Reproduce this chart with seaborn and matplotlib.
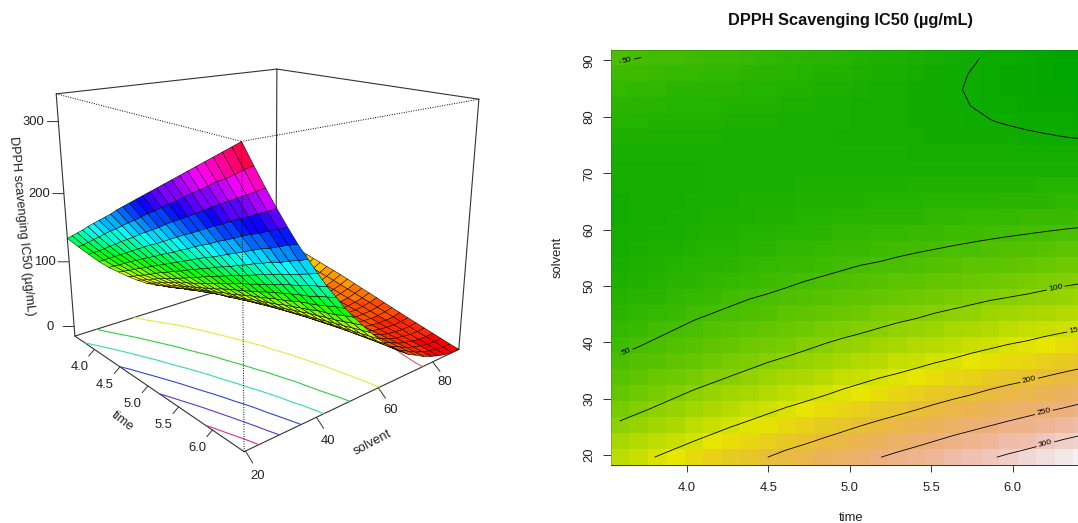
#!/usr/bin/env python3
"""
DPPH scavenging IC50 response surface: 3D view on the left, image and contours on the right
"""

import colorsys

import numpy as np
import pandas as pd
import matplotlib
matplotlib.use('Agg')
import matplotlib.pyplot as plt
from matplotlib.colors import ListedColormap
from mpl_toolkits.mplot3d import proj3d
import seaborn as sns

sns.set_style('white')
plt.rcParams['font.family'] = ['Liberation Sans', 'DejaVu Sans']

# grid, rows run from low solvent to high solvent
time_values = [3.588, 3.701, 3.815, 3.928, 4.042, 4.155, 4.269, 4.382, 4.496, 4.610, 4.723, 4.837, 4.950,
               5.064, 5.177, 5.291, 5.404, 5.518, 5.632, 5.745, 5.859, 5.972, 6.086, 6.199, 6.313, 6.426]
solvent_values = [19.65, 22.49, 25.32, 28.16, 30.99, 33.83, 36.66, 39.50, 42.33, 45.17, 48.00, 50.84, 53.67,
                  56.51, 59.34, 62.18, 65.01, 67.85, 70.68, 73.52, 76.35, 79.19, 82.02, 84.86, 87.69, 90.53]
ic50_rows = [
    [135, 143, 151, 159, 168, 176, 184, 192, 200, 209, 217, 225, 233, 241, 249, 257, 265, 273, 281, 289, 297, 305, 313, 321, 329, 337],
    [119, 126, 134, 142, 150, 158, 166, 173, 181, 189, 196, 204, 212, 219, 227, 235, 242, 250, 258, 265, 273, 281, 287, 295, 303, 310],
    [104, 111, 118, 125, 133, 140, 148, 155, 162, 170, 177, 184, 191, 199, 206, 213, 220, 227, 235, 242, 249, 256, 263, 270, 277, 284],
    [89, 96, 103, 110, 117, 124, 131, 138, 145, 152, 158, 165, 172, 179, 186, 192, 199, 206, 213, 219, 226, 233, 239, 246, 252, 259],
    [76, 83, 89, 96, 103, 109, 116, 122, 128, 135, 141, 147, 154, 160, 167, 173, 179, 186, 192, 198, 205, 211, 216, 223, 229, 235],
    [65, 71, 77, 83, 89, 95, 101, 107, 113, 119, 125, 131, 137, 143, 149, 154, 160, 166, 172, 178, 184, 190, 195, 201, 207, 212],
    [54, 59, 65, 70, 76, 82, 88, 93, 99, 104, 110, 115, 121, 126, 132, 137, 142, 148, 153, 159, 164, 170, 174, 180, 185, 191],
    [44, 49, 54, 60, 65, 70, 75, 80, 85, 90, 95, 101, 106, 111, 116, 121, 126, 131, 136, 141, 146, 151, 155, 160, 165, 170],
    [35, 40, 45, 50, 55, 60, 64, 69, 73, 78, 82, 87, 92, 96, 101, 106, 110, 115, 119, 124, 129, 133, 137, 142, 146, 150],
    [28, 32, 36, 41, 46, 50, 54, 58, 62, 66, 70, 75, 79, 83, 87, 91, 95, 100, 104, 108, 112, 116, 119, 124, 128, 132],
    [22, 25, 29, 33, 37, 41, 45, 49, 52, 56, 60, 63, 67, 71, 75, 78, 82, 86, 89, 93, 97, 100, 103, 107, 111, 114],
    [16, 19, 23, 26, 30, 33, 37, 40, 43, 46, 50, 53, 56, 60, 63, 66, 69, 73, 76, 79, 82, 86, 88, 91, 95, 98],
    [12, 15, 18, 21, 24, 27, 30, 33, 35, 38, 41, 44, 47, 50, 52, 55, 58, 61, 64, 67, 69, 72, 74, 77, 80, 83],
    [8.5, 10.9, 13.4, 16, 18.6, 21, 23.5, 26, 28.5, 30.9, 33.4, 35.8, 38.2, 40.6, 43, 45.3, 47.7, 50, 52.3, 54.6, 56.9, 59.2, 61.3, 63.7, 66, 68.3],
    [6.1, 8.2, 10.3, 12.4, 14.5, 16.6, 18.7, 20.7, 22.8, 24.7, 26.8, 28.7, 30.7, 32.6, 34.6, 36.4, 38.4, 40.2, 42.2, 44, 45.9, 47.7, 49.5, 51.3, 53.1, 54.8],
    [4.9, 6.6, 8.2, 9.9, 11.5, 13.2, 14.8, 16.4, 18, 19.5, 21, 22.6, 24.1, 25.6, 27.1, 28.6, 30, 31.4, 32.9, 34.3, 35.7, 37, 38.4, 39.8, 41.1, 42.4],
    [4.9, 6.2, 7.4, 8.6, 9.8, 11, 12.2, 13.3, 14.4, 15.6, 16.7, 17.8, 18.9, 19.9, 21, 22, 23, 24, 25, 26, 27, 27.8, 28.8, 29.7, 30.6, 31.5],
    [6, 6.8, 7.6, 8.3, 9.1, 9.9, 10.6, 11.3, 12, 12.6, 13.3, 14, 14.6, 15.2, 15.8, 16.4, 16.9, 17.5, 18.1, 18.6, 19.1, 19.5, 20, 20.5, 21, 21.4],
    [8.1, 8.5, 8.8, 9.1, 9.4, 9.8, 10.1, 10.3, 10.5, 10.8, 11, 11.2, 11.4, 11.6, 11.8, 11.9, 12, 12.1, 12.3, 12.3, 12.4, 12.4, 12.5, 12.5, 12.5, 12.5],
    [11.3, 11.3, 11.2, 11.2, 11.1, 11.2, 11, 10.9, 10.8, 10.6, 10.5, 10.4, 10.1, 10, 9.8, 9.6, 9.3, 9, 8.8, 8.5, 8.2, 7.8, 7.6, 7.2, 6.8, 6.5],
    [15.5, 15.1, 14.6, 14.2, 13.7, 13.3, 12.8, 12.2, 11.7, 11.1, 10.6, 9.9, 9.2, 8.6, 7.9, 7.1, 6.3, 5.5, 4.8, 4, 3.3, 2.5, 1.8, 1, 0.2, -0.6],
    [20.9, 20.1, 19.2, 18.4, 17.5, 16.6, 15.6, 14.8, 13.8, 12.8, 11.8, 10.7, 9.6, 8.5, 7.3, 6.2, 5, 3.9, 2.7, 1.5, 0.3, -0.8, -2, -3.1, -4.4, -5.5],
    [27.2, 25.9, 24.7, 23.3, 22, 20.7, 19.4, 18.1, 16.6, 15.3, 13.9, 12.4, 10.9, 9.3, 7.8, 6.3, 4.7, 3, 1.5, -0.1, -1.7, -3.2, -4.8, -6.4, -8, -9.7],
    [34.8, 33.2, 31.4, 29.8, 28.1, 26.3, 24.6, 22.9, 21.1, 19.3, 17.6, 15.6, 13.5, 11.4, 9.4, 7.4, 5.3, 3.2, 1.1, -1, -2.9, -5.1, -7, -8.9, -10.9, -13],
    [43.3, 41.2, 39.3, 37.1, 34.9, 33, 30.8, 28.6, 26.4, 24.3, 22.2, 19.7, 17.2, 14.8, 12.2, 9.8, 7.2, 4.6, 2, -0.4, -2.8, -5.3, -7.5, -9.9, -12.3, -14.7],
    [52.8, 50.4, 48, 45.5, 42.9, 40.5, 38, 35.5, 32.9, 30.5, 28, 25.1, 22.2, 19.1, 16.2, 13.3, 10.3, 7.2, 4.3, 1.3, -1.4, -4.2, -6.9, -9.7, -12.5, -15.2],
]

time_ticks = [4.0, 4.5, 5.0, 5.5, 6.0]
solvent_ticks = [20, 40, 60, 80]
solvent_ticks_image = [20, 30, 40, 50, 60, 70, 80, 90]
ic50_ticks = [0, 100, 200, 300]
contour_levels = [0, 50, 100, 150, 200, 250, 300]
floor_colors = ['#d06060', '#e8e840', '#33cc44', '#33ddaa', '#3344cc', '#6633cc', '#cc3399']

FIG_W, FIG_H = 1078, 523
LINE = '#333333'


def terrain_colors(n):
    """Same ramp as R terrain.colors"""
    k = n // 2
    low = [colorsys.hsv_to_rgb(h, 1.0, v)
           for h, v in zip(np.linspace(4 / 12, 2 / 12, k), np.linspace(0.65, 0.9, k))]
    high = [colorsys.hsv_to_rgb(h, s, v)
            for h, s, v in zip(np.linspace(2 / 12, 0, n - k + 1)[1:], np.linspace(1, 0, n - k + 1)[1:],
                               np.linspace(0.9, 0.95, n - k + 1)[1:])]
    return low + high


def rainbow_colors(n):
    """Same ramp as R rainbow"""
    return np.array([colorsys.hsv_to_rgb(i / n, 1.0, 1.0) for i in range(n)])


def px_axes(fig, left, top, width, height, **kwargs):
    """Add axes from pixel box, top measured from the upper edge"""
    return fig.add_axes([left / FIG_W, 1 - (top + height) / FIG_H, width / FIG_W, height / FIG_H], **kwargs)


def draw_surface(fig, z):
    """Left panel, persp style box with floor contours"""
    ax = px_axes(fig, 35, 9, 445, 445, projection='3d')
    ax.computed_zorder = False
    ax.set_axis_off()
    ax.patch.set_alpha(0)

    t_lo, t_hi = time_values[0], time_values[-1]
    s_lo, s_hi = solvent_values[0], solvent_values[-1]
    z_lo, z_hi = z.min(), z.max()
    ax.set_xlim(t_lo, t_hi, view_margin=0)
    ax.set_ylim(s_lo, s_hi, view_margin=0)
    ax.set_zlim(z_lo, z_hi, view_margin=0)
    ax.set_box_aspect((1, 1, 0.905), zoom=1.045)
    ax.view_init(elev=18, azim=-40.5)
    ax.set_proj_type('persp', focal_length=0.345)

    # back edges first, surface hides them
    solid = [((t_lo, s_lo, z_lo), (t_lo, s_hi, z_lo)), ((t_hi, s_hi, z_lo), (t_lo, s_hi, z_lo)),
             ((t_lo, s_hi, z_lo), (t_lo, s_hi, z_hi)), ((t_lo, s_lo, z_hi), (t_lo, s_hi, z_hi)),
             ((t_hi, s_hi, z_hi), (t_lo, s_hi, z_hi)), ((t_lo, s_lo, z_lo), (t_lo, s_lo, z_hi)),
             ((t_hi, s_hi, z_lo), (t_hi, s_hi, z_hi)), ((t_lo, s_lo, z_lo), (t_hi, s_lo, z_lo)),
             ((t_hi, s_lo, z_lo), (t_hi, s_hi, z_lo))]
    for a, b in solid:
        ax.plot(*zip(a, b), color=LINE, lw=0.8, zorder=1, clip_on=False)

    T, S = np.meshgrid(time_values, solvent_values)
    ax.contour(T, S, z, levels=contour_levels, colors=floor_colors, zdir='z', offset=z_lo,
               linewidths=0.8, zorder=1.5)

    # facet colour from mean height of the four corners
    facet = (z[:-1, :-1] + z[1:, :-1] + z[:-1, 1:] + z[1:, 1:]) / 4
    palette = rainbow_colors(40)
    idx = np.clip(((facet - z_lo) / (z_hi - z_lo) * 40).astype(int), 0, 39)
    ax.plot_surface(T, S, z, facecolors=palette[idx], rstride=1, cstride=1, shade=False,
                    edgecolor='black', linewidth=0.35, zorder=2)

    dotted = [((t_lo, s_lo, z_hi), (t_hi, s_lo, z_hi)), ((t_hi, s_hi, z_hi), (t_hi, s_lo, z_hi)),
              ((t_hi, s_lo, z_lo), (t_hi, s_lo, z_hi))]
    for a, b in dotted:
        ax.plot(*zip(a, b), color='black', lw=0.7, ls=(0, (1, 1.5)), zorder=3, clip_on=False)

    # ticks and labels sit at a screen offset from the projected edge point
    M = ax.get_proj()

    def tick(x, y, zv, dx, dy, lx, ly, label):
        px, py, _ = proj3d.proj_transform(x, y, zv, M)
        ax.annotate('', xy=(px, py), xytext=(dx * 0.72, -dy * 0.72), textcoords='offset points',
                    xycoords='data', annotation_clip=False, zorder=4,
                    arrowprops=dict(arrowstyle='-', lw=0.7, color=LINE, shrinkA=0, shrinkB=0))
        ax.annotate(label, xy=(px, py), xytext=(lx * 0.72, -ly * 0.72), textcoords='offset points',
                    ha='center', va='center', fontsize=9.4, color='#222222', annotation_clip=False, zorder=4)

    for t in time_ticks:
        tick(t, s_lo, z_lo, -5.7, 6.7, -15, 18, f'{t:.1f}')
    for s in solvent_ticks:
        tick(t_hi, s, z_lo, 7.3, 12 - (s - 20) * 0.04, 12, 25 - (s - 20) * 0.08, f'{s}')
    for v in ic50_ticks:
        tick(t_lo, s_lo, v, -11, 0, -24.5, 0, f'{v}')

    fig.text(122 / FIG_W, 1 - 421 / FIG_H, 'time', rotation=-38, ha='center', va='center', fontsize=9.4, color='#222222')
    fig.text(372 / FIG_W, 1 - 443 / FIG_H, 'solvent', rotation=28, ha='center', va='center', fontsize=9.4, color='#222222')
    fig.text(22 / FIG_W, 1 - 226 / FIG_H, 'DPPH scavenging IC50 (µg/mL)', rotation=-84.5, ha='center', va='center',
             fontsize=9.1, color='#222222')


def draw_image(fig, z):
    """Right panel, heatmap cells with labelled contours on top"""
    ax = px_axes(fig, 610.5, 49.5, 481, 415.7)
    df = pd.DataFrame(z, index=solvent_values, columns=time_values)
    sns.heatmap(df, cmap=ListedColormap(terrain_colors(100)), vmin=z.min(), vmax=z.max(), cbar=False, ax=ax,
                xticklabels=False, yticklabels=False)
    ax.set_ylim(0, len(solvent_values))

    col = np.arange(len(time_values)) + 0.5
    row = np.arange(len(solvent_values)) + 0.5

    def x_pos(v):
        return np.interp(v, time_values, col)

    def y_pos(v):
        return np.interp(v, solvent_values, row)

    cs = ax.contour(col, row, z, levels=contour_levels, colors='black', linewidths=0.6)
    spots = [(3.62, 38.9), (3.64, 89.2), (6.264, 49.6), (6.39, 41.9), (6.10, 33.5), (6.19, 27.6), (6.20, 22.0)]
    ax.clabel(cs, fmt='%d', fontsize=6.0, inline_spacing=2,
              manual=[(x_pos(a), y_pos(b)) for a, b in spots])

    ax.set_xticks(x_pos(time_ticks))
    ax.set_xticklabels([f'{t:.1f}' for t in time_ticks], fontsize=9.4, color='#222222')
    ax.set_yticks(y_pos(solvent_ticks_image))
    ax.set_yticklabels([str(s) for s in solvent_ticks_image], fontsize=9.4, color='#222222', rotation=90, va='center')
    ax.tick_params(axis='x', length=4.8, width=0.7, color=LINE, pad=7, bottom=True)
    ax.tick_params(axis='y', length=5.8, width=0.7, color=LINE, pad=5, left=True)
    ax.set_xlabel('time', fontsize=9.4, color='#222222', labelpad=13.5)
    ax.set_ylabel('solvent', fontsize=9.4, color='#222222', labelpad=14)
    ax.set_title('DPPH Scavenging IC50 (µg/mL)', fontsize=11.8, fontweight='bold', pad=17.5, color='#111111')

    for name, spine in ax.spines.items():
        spine.set_visible(True)
        spine.set_linewidth(0.7)
        spine.set_color(LINE if name == 'bottom' else '#33333340')


def main():
    z = np.array(ic50_rows, dtype=float)
    fig = plt.figure(figsize=(FIG_W / 100, FIG_H / 100), dpi=100, facecolor='white')
    draw_surface(fig, z)
    draw_image(fig, z)
    fig.savefig('out.png', dpi=100)
    plt.close(fig)


if __name__ == "__main__":
    main()
